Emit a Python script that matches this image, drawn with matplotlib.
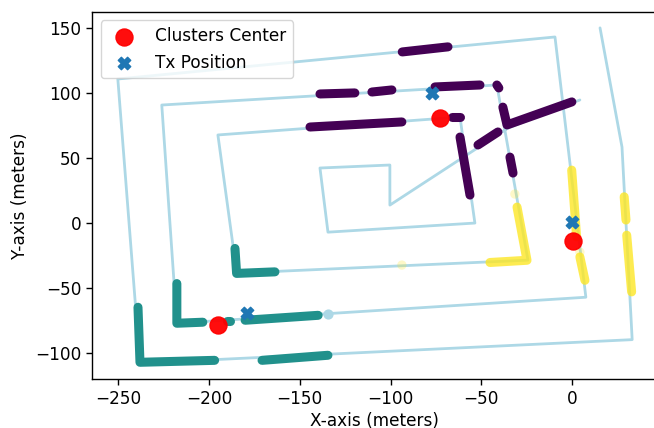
import matplotlib.pyplot as plt
import numpy as np

# Trajectory of the receiver (spiral), waypoints in meters
path_x = [15.3, 27.4, 33.0, -238.0, -250.2, -9.5, 7.5, -217.7, -226.0, -41.5,
          -24.4, -184.7, -195.1, -61.8, -53.6, -134.5, -138.9, -100.4, -100.4,
          -35.4, 4.2]
path_y = [149.8, 58.2, -89.8, -107.9, 110.5, 142.8, -57.2, -77.2, 90.5, 105.9,
          -28.7, -38.7, 67.5, 81.3, -0.2, -7.2, 42.1, 44.4, 13.6, 72.8, 94.4]

# Clustered stretches of the trajectory (x list, y list, cluster label)
cluster_segments = [
    ([-93.6, -68.4], [131.3, 135.2], 0),
    ([-138.9, -119.7], [99.0, 99.8], 0),
    ([-110.3, -99.3], [100.5, 102.1], 0),
    ([-75.6, -50.8], [104.4, 105.9], 0),
    ([-41.5, -40.4], [105.9, 103.6], 0),
    ([-144.4, -93.8], [73.6, 77.5], 0),
    ([-66.2, -61.8], [81.3, 81.3], 0),
    ([-61.8, -56.3], [65.9, 21.3], 0),
    ([-34.3, -32.6], [50.5, 38.2], 0),
    ([-51.9, -40.9], [59.8, 69.8], 0),
    ([-38.2, -35.9, -0.2], [88.9, 75.2, 92.9], 0),
    ([-239.1, -238.0, -196.9], [-64.9, -107.2, -105.7], 1),
    ([-170.8, -134.5], [-105.7, -101.8], 1),
    ([-217.7, -217.7, -203.4], [-46.7, -77.2, -76.4], 1),
    ([-190.1, -188.5], [-75.6, -75.6], 1),
    ([-180.1, -139.9], [-74.9, -71.1], 1),
    ([-185.7, -184.8, -163.7], [-19.7, -38.9, -37.7], 1),
    ([-0.3, 2.4], [40.5, -10.8], 2),
    ([4.2, 7.0], [-26.2, -44.2], 2),
    ([7.5, 7.5], [-57.2, -57.2], 2),
    ([28.6, 29.6], [20.0, 2.1], 2),
    ([30.0, 32.7], [-9.5, -53.1], 2),
    ([-30.4, -24.9, -45.3], [12.1, -28.8, -30.5], 2),
    ([-56.3, -56.3], [-30.2, -30.2], 2),
]

# isolated faint cluster points
faint_x = [-31.6, -93.8, 4.2]
faint_y = [22.1, -32.5, -22.5]

centers_x = [-195.1, -72.9, 0.4]
centers_y = [-78.7, 80.5, -14.1]

tx_x = [-179.1, -77.3, -0.2]
tx_y = [-69.5, 99.8, 0.5]

plt.rcParams['font.size'] = 12.2
plt.rcParams['axes.linewidth'] = 1.0
plt.rcParams['xtick.major.size'] = 4.3
plt.rcParams['ytick.major.size'] = 4.3
plt.rcParams['xtick.major.width'] = 1.0
plt.rcParams['ytick.major.width'] = 1.0

cmap = plt.get_cmap('viridis')
label_colors = {0: cmap(0.0), 1: cmap(0.5), 2: cmap(1.0)}
label_alpha = {0: 1.0, 1: 1.0, 2: 0.8}

fig = plt.figure(figsize=(6.54, 4.28), dpi=100)
ax = fig.add_axes([0.141, 0.114, 0.862, 0.858])

ax.plot(path_x, path_y, color='lightblue', linewidth=2.0, solid_capstyle='round',
        solid_joinstyle='round', zorder=1)
ax.scatter([-134.5], [-70.3], color='lightblue', s=40, zorder=1)

for xs, ys, lab in cluster_segments:
    ax.plot(xs, ys, color=label_colors[lab], alpha=label_alpha[lab], linewidth=6.5,
            solid_capstyle='round', solid_joinstyle='round', zorder=2)
ax.scatter(faint_x, faint_y, color=label_colors[2], alpha=0.25, s=45,
           edgecolors='none', zorder=2)

ax.scatter(centers_x, centers_y, color='red', s=150, alpha=0.95, zorder=4,
           label='Clusters Center')
ax.scatter(tx_x, tx_y, color='tab:blue', marker='X', s=80, zorder=3,
           label='Tx Position')

ax.set_xlim(-264.3, 46.1)
ax.set_ylim(-120.2, 162.0)
ax.set_xlabel('X-axis (meters)', labelpad=2.5)
ax.set_ylabel('Y-axis (meters)')
ax.legend(loc='upper left')

fig.savefig('out.png', dpi=100)
